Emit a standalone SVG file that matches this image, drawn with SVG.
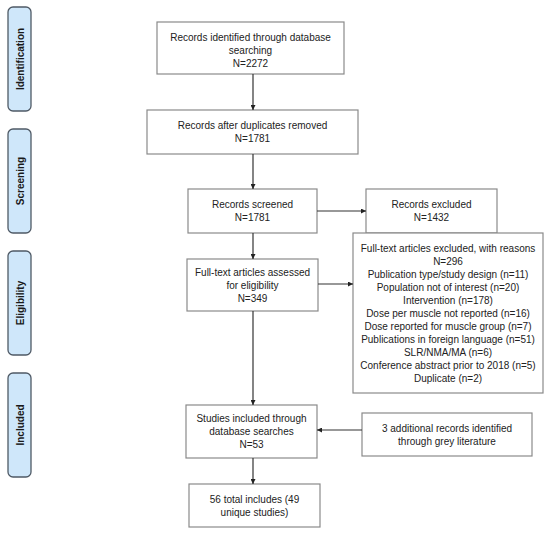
<svg xmlns="http://www.w3.org/2000/svg" width="550" height="533" viewBox="0 0 550 533">
<defs>
<style>
.bg{fill:#ffffff}
.stage rect{fill:#cfe7fa;stroke:#4f5a66;stroke-width:1.3}
.stage text{font-family:"Liberation Sans",Arial,sans-serif;font-weight:bold;font-size:10px;fill:#1a1a1a;text-anchor:middle}
.box rect{fill:#ffffff;stroke:#8a8a8a;stroke-width:1.2}
.box text{font-family:"Liberation Sans",Arial,sans-serif;font-size:10px;fill:#222222;text-anchor:middle}
.conn line{stroke:#333333;stroke-width:1.2;fill:none;marker-end:url(#ah)}
</style>
<marker id="ah" viewBox="0 0 10 10" refX="10" refY="5" markerWidth="5" markerHeight="5" markerUnits="userSpaceOnUse" orient="auto">
<path d="M0,0 L10,5 L0,10 Z" fill="#222222"/>
</marker>
</defs>
<rect class="bg" x="0" y="0" width="550" height="533"/>

<g id="stage-identification" class="stage">
<rect x="8" y="7" width="23" height="104" rx="5"/>
<text transform="translate(23.5,59) rotate(-90)">Identification</text>
</g>
<g id="stage-screening" class="stage">
<rect x="8" y="129" width="23" height="104" rx="5"/>
<text transform="translate(23.5,181) rotate(-90)">Screening</text>
</g>
<g id="stage-eligibility" class="stage">
<rect x="8" y="251" width="23" height="104" rx="5"/>
<text transform="translate(23.5,303) rotate(-90)">Eligibility</text>
</g>
<g id="stage-included" class="stage">
<rect x="8" y="373" width="23" height="104" rx="5"/>
<text transform="translate(23.5,425) rotate(-90)">Included</text>
</g>

<g id="node-identified" class="box">
<rect x="157" y="22" width="187" height="52"/>
<text x="250.5" y="40.5">Records identified through database</text>
<text x="250.5" y="53.5">searching</text>
<text x="250.5" y="66.5">N=2272</text>
</g>
<g id="node-deduplicated" class="box">
<rect x="147" y="110" width="211" height="44"/>
<text x="252.5" y="129">Records after duplicates removed</text>
<text x="252.5" y="142">N=1781</text>
</g>
<g id="node-screened" class="box">
<rect x="188" y="189" width="129" height="44"/>
<text x="252.5" y="208">Records screened</text>
<text x="252.5" y="221">N=1781</text>
</g>
<g id="node-excluded" class="box">
<rect x="366" y="189" width="131" height="44"/>
<text x="431.5" y="208">Records excluded</text>
<text x="431.5" y="221">N=1432</text>
</g>
<g id="node-fulltext" class="box">
<rect x="187" y="259" width="131" height="52"/>
<text x="252.5" y="275.5">Full-text articles assessed</text>
<text x="252.5" y="288.5">for eligibility</text>
<text x="252.5" y="301.5">N=349</text>
</g>
<g id="node-fulltext-excluded" class="box">
<rect x="353" y="233" width="190" height="160"/>
<text x="448" y="251.5">Full-text articles excluded, with reasons</text>
<text x="448" y="264.5">N=296</text>
<text x="448" y="277.5">Publication type/study design (n=11)</text>
<text x="448" y="290.5">Population not of interest (n=20)</text>
<text x="448" y="303.5">Intervention (n=178)</text>
<text x="448" y="316.5">Dose per muscle not reported (n=16)</text>
<text x="448" y="329.5">Dose reported for muscle group (n=7)</text>
<text x="448" y="342.5">Publications in foreign language (n=51)</text>
<text x="448" y="355.5">SLR/NMA/MA (n=6)</text>
<text x="448" y="368.5">Conference abstract prior to 2018 (n=5)</text>
<text x="448" y="381.5">Duplicate (n=2)</text>
</g>
<g id="node-included" class="box">
<rect x="186" y="405" width="131" height="53"/>
<text x="251.5" y="422">Studies included through</text>
<text x="251.5" y="435">database searches</text>
<text x="251.5" y="448">N=53</text>
</g>
<g id="node-grey" class="box">
<rect x="362" y="413" width="170" height="43"/>
<text x="447" y="431.5">3 additional records identified</text>
<text x="447" y="444.5">through grey literature</text>
</g>
<g id="node-total" class="box">
<rect x="189" y="484" width="131" height="43"/>
<text x="254.5" y="502.5">56 total includes (49</text>
<text x="254.5" y="515.5">unique studies)</text>
</g>

<g id="connectors" class="conn">
<line x1="253" y1="74" x2="253" y2="110"/>
<line x1="253" y1="154" x2="253" y2="189"/>
<line x1="253" y1="233" x2="253" y2="259"/>
<line x1="253" y1="311" x2="253" y2="405"/>
<line x1="253" y1="458" x2="253" y2="484"/>
<line x1="317" y1="211" x2="366" y2="211"/>
<line x1="318" y1="284" x2="353" y2="284"/>
<line x1="362" y1="430" x2="317" y2="430"/>
</g>
</svg>
